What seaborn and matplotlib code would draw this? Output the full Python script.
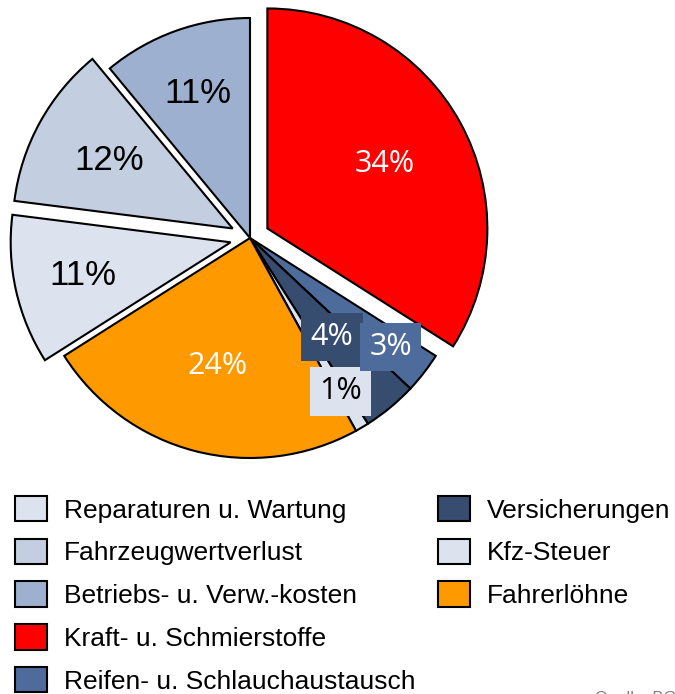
import matplotlib.pyplot as plt
import numpy as np
import seaborn as sns

# slices, clockwise from 12 o'clock
categories = [
    "Kraft- u. Schmierstoffe",
    "Reifen- u. Schlauchaustausch",
    "Versicherungen",
    "Kfz-Steuer",
    "Fahrerlöhne",
    "Reparaturen u. Wartung",
    "Fahrzeugwertverlust",
    "Betriebs- u. Verw.-kosten",
]
shares = [34, 3, 4, 1, 24, 11, 12, 11]
colors = ["#ff0000", "#4e6c9b", "#374d6f", "#dce3ee", "#ff9900", "#dce3ee", "#c3cee0", "#9db0cf"]
explode = [0.09, 0, 0, 0, 0, 0.09, 0.09, 0]

# label styling per slice: radial position, text colour, box or not
label_dist = [0.61, 0.81, 0.585, 0.81, 0.6, 0.69, 0.64, 0.7]
label_color = ["white", "white", "white", "black", "white", "black", "black", "black"]
label_boxed = [False, True, True, True, False, False, False, False]

legend_col1 = [5, 6, 7, 0, 1]
legend_col2 = [2, 3, 4]

W, H = 675, 694
sns.set_theme(style="white")
plt.rcParams["font.family"] = ["Liberation Sans", "DejaVu Sans"]
plt.rcParams["text.color"] = "black"

fig = plt.figure(figsize=(W / 100, H / 100), dpi=100)
ax = fig.add_axes([0, 0, 1, 1])

wedges, _ = ax.pie(
    shares,
    colors=colors,
    explode=explode,
    startangle=90,
    counterclock=False,
    radius=1.0,
    wedgeprops=dict(edgecolor="black", linewidth=1.5),
)

for i, w in enumerate(wedges):
    mid = np.deg2rad((w.theta1 + w.theta2) / 2)
    cx, cy = w.center
    x = cx + label_dist[i] * np.cos(mid)
    y = cy + label_dist[i] * np.sin(mid)
    txt = f"{shares[i]}%"
    if label_boxed[i]:
        ax.text(x, y, txt, ha="center", va="center", color=label_color[i],
                fontsize=22, family=["Open Sans", "DejaVu Sans"],
                bbox=dict(boxstyle="square,pad=0.3", fc=colors[i], ec="none"),
                zorder=5 + (i == 1))
    elif label_color[i] == "white":
        ax.text(x, y, txt, ha="center", va="center", color="white",
                fontsize=22, family=["Open Sans", "DejaVu Sans"])
    else:
        ax.text(x, y, txt, ha="center", va="center", color="black", fontsize=25)

# pie centre at (250, 238) px from top-left, radius 220 px
r_px = 220
cx_px, cy_px = 250, H - 238
ax.set_xlim(-cx_px / r_px, (W - cx_px) / r_px)
ax.set_ylim(-cy_px / r_px, (H - cy_px) / r_px)
ax.set_aspect("auto")
ax.axis("off")

leg_kw = dict(
    loc="upper left",
    frameon=False,
    borderpad=0,
    borderaxespad=0,
    handlelength=1.2,
    handleheight=1.1,
    handletextpad=0.65,
    labelspacing=0.61,
    labelcolor="black",
    prop={"family": "Liberation Sans", "size": 19},
)
leg1 = fig.legend([wedges[i] for i in legend_col1], [categories[i] for i in legend_col1],
                  bbox_to_anchor=(15 / W, 1 - 496 / H), **leg_kw)
leg2 = fig.legend([wedges[i] for i in legend_col2], [categories[i] for i in legend_col2],
                  bbox_to_anchor=(438 / W, 1 - 496 / H), **leg_kw)

fig.text(595 / W, 3 / H, "Quelle: BGL", ha="left", va="top", fontsize=12, color="#808080")

fig.savefig("out.png", dpi=100)
